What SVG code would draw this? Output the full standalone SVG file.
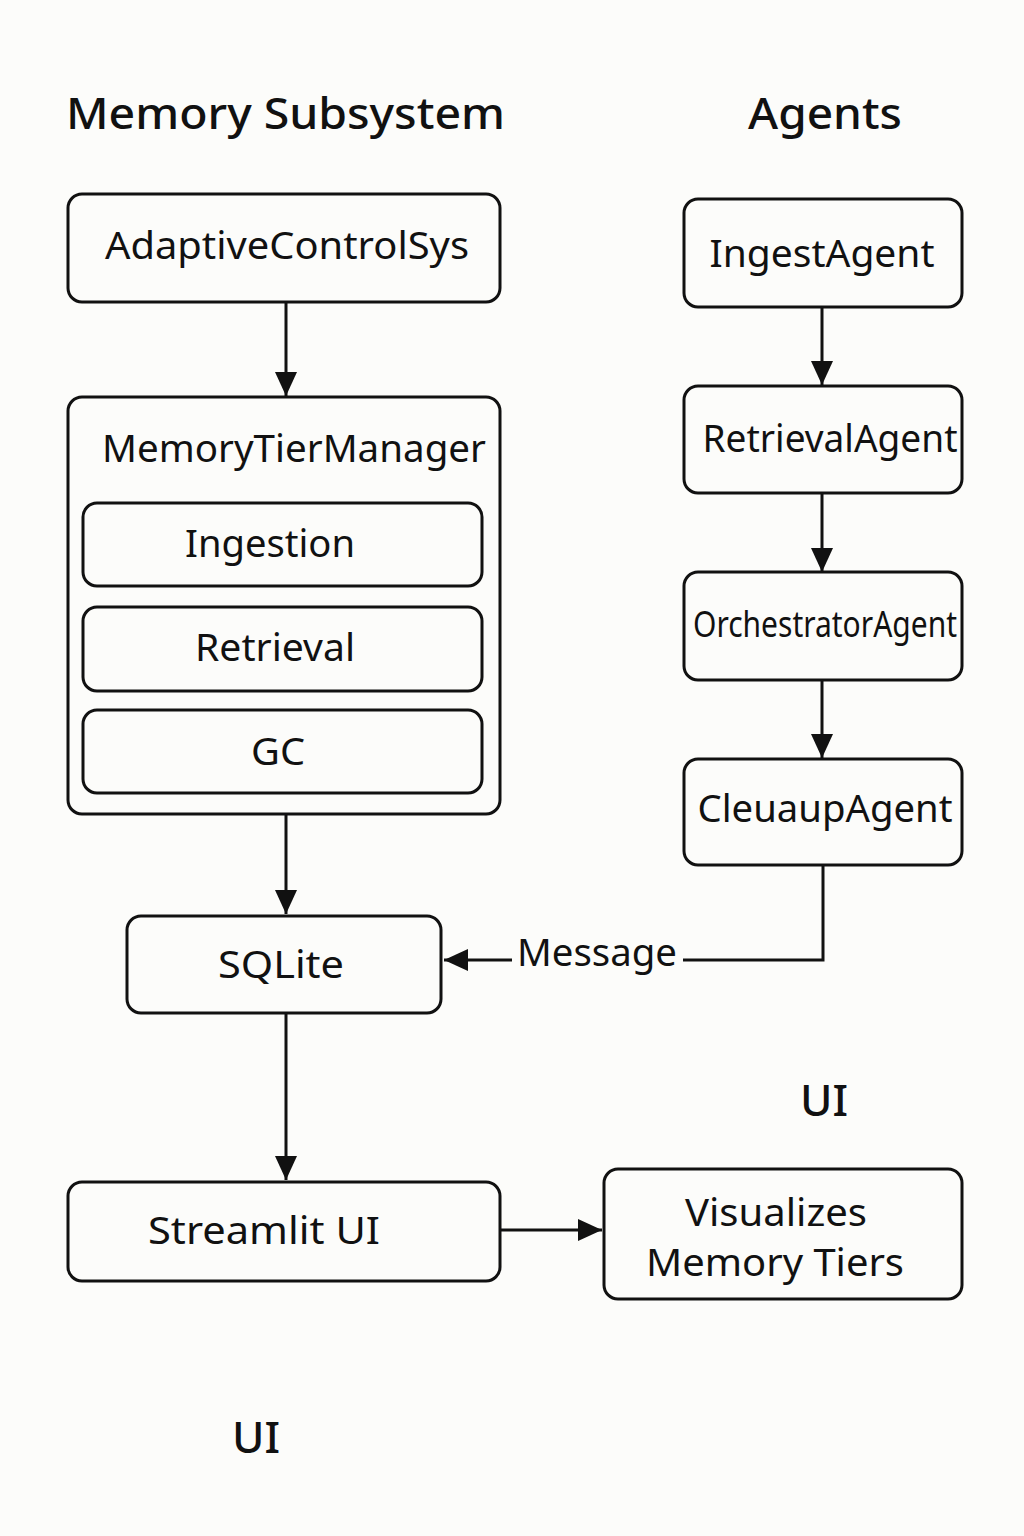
<svg xmlns="http://www.w3.org/2000/svg" width="1024" height="1536" viewBox="0 0 1024 1536">
<defs>
<style>
.box{fill:none;stroke:#111;stroke-width:3;}
.t{font-family:"Noto Sans","Open Sans","DejaVu Sans",sans-serif;fill:#111;text-anchor:middle;}
.h{font-family:"Noto Sans","Open Sans","DejaVu Sans",sans-serif;fill:#111;font-weight:500;}
.c{fill:none;stroke:#111;stroke-width:3;}
</style>
<marker id="ah" viewBox="0 0 10 10" refX="10" refY="5" markerWidth="8" markerHeight="8" markerUnits="userSpaceOnUse" orient="auto">
<path d="M0,0 L10,5 L0,10 z" fill="#111"/>
</marker>
<marker id="arr" viewBox="0 0 24 24" refX="24" refY="12" markerWidth="24" markerHeight="24" markerUnits="userSpaceOnUse" orient="auto">
<path d="M0,1 L24,12 L0,23 z" fill="#111"/>
</marker>
</defs>
<rect width="1024" height="1536" fill="#fcfcfa"/>
<g id="titles">
<text class="h" x="66" y="129" font-size="44" textLength="439" lengthAdjust="spacingAndGlyphs">Memory Subsystem</text>
<text class="h" x="748" y="129" font-size="44" textLength="154" lengthAdjust="spacingAndGlyphs">Agents</text>
<text class="h" x="800" y="1116" font-size="44" font-weight="700">UI</text>
<text class="h" x="232" y="1453" font-size="44" font-weight="700">UI</text>
</g>
<g id="connectors">
<line class="c" x1="286" y1="302" x2="286" y2="396" marker-end="url(#arr)"/>
<line class="c" x1="286" y1="815" x2="286" y2="914" marker-end="url(#arr)"/>
<line class="c" x1="286" y1="1014" x2="286" y2="1180" marker-end="url(#arr)"/>
<line class="c" x1="500" y1="1230" x2="602" y2="1230" marker-end="url(#arr)"/>
<line class="c" x1="822" y1="307" x2="822" y2="385" marker-end="url(#arr)"/>
<line class="c" x1="822" y1="494" x2="822" y2="572" marker-end="url(#arr)"/>
<line class="c" x1="822" y1="681" x2="822" y2="758" marker-end="url(#arr)"/>
<polyline class="c" points="823,866 823,960 683,960"/>
<line class="c" x1="512" y1="960" x2="444" y2="960" marker-end="url(#arr)"/>
<text class="t" x="597" y="966" font-size="38" textLength="160" lengthAdjust="spacingAndGlyphs">Message</text>
</g>
<g id="AdaptiveControlSys">
<rect class="box" x="68" y="194" width="432" height="108" rx="14"/>
<text class="t" x="287" y="259" font-size="38" textLength="364" lengthAdjust="spacingAndGlyphs">AdaptiveControlSys</text>
</g>
<g id="MemoryTierManager">
<rect class="box" x="68" y="397" width="432" height="417" rx="14"/>
<text class="t" x="294" y="462" font-size="38" textLength="384" lengthAdjust="spacingAndGlyphs">MemoryTierManager</text>
</g>
<g id="Ingestion">
<rect class="box" x="83" y="503" width="399" height="83" rx="14"/>
<text class="t" x="270" y="557" font-size="38" textLength="170" lengthAdjust="spacingAndGlyphs">Ingestion</text>
</g>
<g id="Retrieval">
<rect class="box" x="83" y="607" width="399" height="84" rx="14"/>
<text class="t" x="275" y="661" font-size="38" textLength="160" lengthAdjust="spacingAndGlyphs">Retrieval</text>
</g>
<g id="GC">
<rect class="box" x="83" y="710" width="399" height="83" rx="14"/>
<text class="t" x="278" y="765" font-size="38" textLength="54" lengthAdjust="spacingAndGlyphs">GC</text>
</g>
<g id="SQLite">
<rect class="box" x="127" y="916" width="314" height="97" rx="14"/>
<text class="t" x="281" y="978" font-size="38" textLength="126" lengthAdjust="spacingAndGlyphs">SQLite</text>
</g>
<g id="StreamlitUI">
<rect class="box" x="68" y="1182" width="432" height="99" rx="14"/>
<text class="t" x="264" y="1244" font-size="38" textLength="232" lengthAdjust="spacingAndGlyphs">Streamlit UI</text>
</g>
<g id="Visualizes">
<rect class="box" x="604" y="1169" width="358" height="130" rx="14"/>
<text class="t" x="776" y="1226" font-size="38" textLength="182" lengthAdjust="spacingAndGlyphs">Visualizes</text>
<text class="t" x="775" y="1276" font-size="38" textLength="258" lengthAdjust="spacingAndGlyphs">Memory Tiers</text>
</g>
<g id="IngestAgent">
<rect class="box" x="684" y="199" width="278" height="108" rx="14"/>
<text class="t" x="822" y="267" font-size="38" textLength="225" lengthAdjust="spacingAndGlyphs">IngestAgent</text>
</g>
<g id="RetrievalAgent">
<rect class="box" x="684" y="386" width="278" height="107" rx="14"/>
<text class="t" x="830" y="452" font-size="38" textLength="255" lengthAdjust="spacingAndGlyphs">RetrievalAgent</text>
</g>
<g id="OrchestratorAgent">
<rect class="box" x="684" y="572" width="278" height="108" rx="14"/>
<text class="t" x="825" y="637" font-size="36" textLength="264" lengthAdjust="spacingAndGlyphs">OrchestratorAgent</text>
</g>
<g id="CleuaupAgent">
<rect class="box" x="684" y="759" width="278" height="106" rx="14"/>
<text class="t" x="825" y="822" font-size="38" textLength="255" lengthAdjust="spacingAndGlyphs">CleuaupAgent</text>
</g>
</svg>
